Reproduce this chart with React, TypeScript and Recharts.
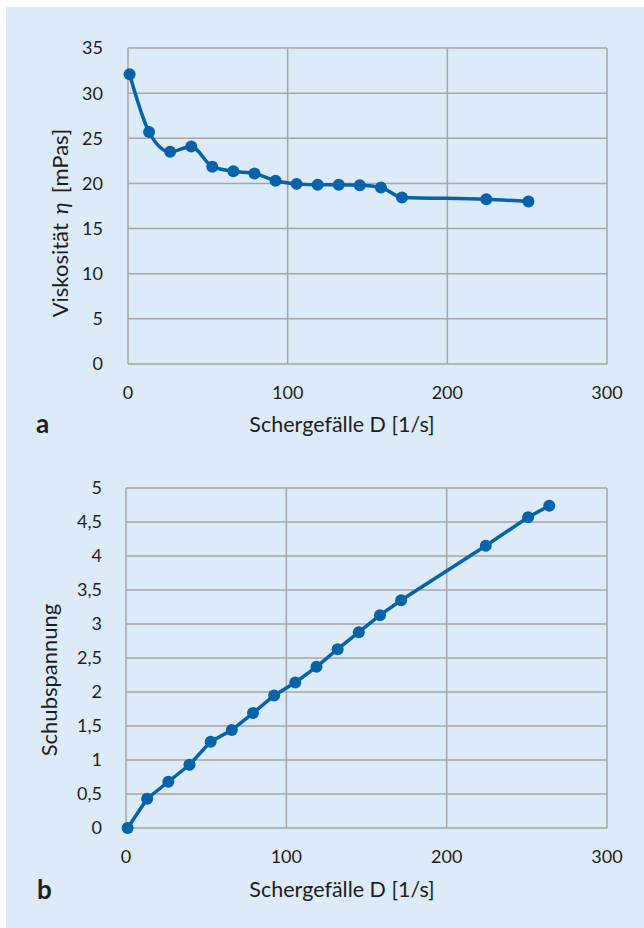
import { LineChart, Line, XAxis, YAxis, CartesianGrid } from 'recharts';

// Schergefälle D [1/s]
const shearRateA = [1, 13.2, 26.4, 39.6, 52.8, 66, 79.2, 92.4, 105.6, 118.8, 132, 145.2, 158.4, 171.6, 224.4, 250.8];
// Viskosität [mPas]
const viscosity = [32.1, 25.7, 23.5, 24.1, 21.85, 21.35, 21.1, 20.3, 19.95, 19.85, 19.85, 19.8, 19.55, 18.45, 18.25, 18.0];

const shearRateB = [1, 13.2, 26.4, 39.6, 52.8, 66, 79.2, 92.4, 105.6, 118.8, 132, 145.2, 158.4, 171.6, 224.4, 250.8, 264];
const shearStress = [0, 0.43, 0.68, 0.93, 1.27, 1.44, 1.69, 1.95, 2.14, 2.37, 2.63, 2.88, 3.13, 3.35, 4.15, 4.57, 4.74];

const xTicks = [0, 100, 200, 300];
const viscosityTicks = [0, 5, 10, 15, 20, 25, 30, 35];
const stressTicks = [0, 0.5, 1, 1.5, 2, 2.5, 3, 3.5, 4, 4.5, 5];

const dataA = shearRateA.map((d, i) => ({ d, v: viscosity[i] }));
const dataB = shearRateB.map((d, i) => ({ d, v: shearStress[i] }));

const FONT = 'Lato, "Open Sans", sans-serif';
const INK = '#1e1e1e';
const BLUE = '#0563a9';
const GRID = '#a6a6a6';
const tickStyle = { fontSize: 18, fill: INK, fontFamily: FONT };
const comma = (v: number) => String(v).replace('.', ',');

const xTitle = (y: number) => () => (
  <text x={342} y={y} textAnchor="middle" fontSize={21.5} fill={INK} fontFamily={FONT}>
    Schergefälle D [1/s]
  </text>
);

export default function App() {
  return (
    <div style={{ position: 'absolute', left: 0, top: 0, width: 644, height: 928, background: '#fff', fontFamily: FONT }}>
      <div style={{ position: 'absolute', left: 6, top: 7, width: 638, height: 921, background: '#ddeaf7' }} />

      {/* a: Viskosität */}
      <div style={{ position: 'absolute', left: 0, top: 0 }}>
        <LineChart width={644} height={440} data={dataA} margin={{ top: 48, right: 37, bottom: 46, left: 68 }}>
          <CartesianGrid stroke={GRID} strokeWidth={1.5} />
          <XAxis
            type="number"
            dataKey="d"
            domain={[0, 300]}
            ticks={xTicks}
            height={30}
            axisLine={false}
            tickLine={false}
            tickSize={0}
            tickMargin={22}
            tick={tickStyle}
            label={{ content: xTitle(432) }}
          />
          <YAxis
            type="number"
            domain={[0, 35]}
            ticks={viscosityTicks}
            width={60}
            axisLine={false}
            tickLine={false}
            tickSize={0}
            tickMargin={25}
            tick={tickStyle}
            label={{
              content: () => (
                <text x={68} y={223} transform="rotate(-90, 68, 223)" textAnchor="middle" fontSize={22} fill={INK} fontFamily={FONT}>
                  Viskosität<tspan dx={9} fontStyle="italic">η</tspan><tspan dx={9}>[mPas]</tspan>
                </text>
              ),
            }}
          />
          <Line type="monotone" dataKey="v" stroke={BLUE} strokeWidth={3.5} dot={{ r: 6, fill: BLUE, stroke: 'none' }} isAnimationActive={false} />
        </LineChart>
      </div>

      {/* b: Schubspannung */}
      <div style={{ position: 'absolute', left: 0, top: 440 }}>
        <LineChart width={644} height={488} data={dataB} margin={{ top: 48, right: 37, bottom: 70, left: 66 }}>
          <CartesianGrid stroke={GRID} strokeWidth={1.5} />
          <XAxis
            type="number"
            dataKey="d"
            domain={[0, 300]}
            ticks={xTicks}
            height={30}
            axisLine={false}
            tickLine={false}
            tickSize={0}
            tickMargin={22}
            tick={tickStyle}
            label={{ content: xTitle(457) }}
          />
          <YAxis
            type="number"
            domain={[0, 5]}
            ticks={stressTicks}
            tickFormatter={comma}
            width={60}
            axisLine={false}
            tickLine={false}
            tickSize={0}
            tickMargin={24}
            tick={tickStyle}
            label={{
              content: () => (
                <text x={57} y={240} transform="rotate(-90, 57, 240)" textAnchor="middle" fontSize={22} fill={INK} fontFamily={FONT}>
                  Schubspannung
                </text>
              ),
            }}
          />
          <Line type="linear" dataKey="v" stroke={BLUE} strokeWidth={3.5} dot={{ r: 6, fill: BLUE, stroke: 'none' }} isAnimationActive={false} />
        </LineChart>
      </div>

      <svg width={644} height={928} style={{ position: 'absolute', left: 0, top: 0, pointerEvents: 'none' }}>
        <text x={36} y={433} fontSize={26} fontWeight={700} fill={INK} fontFamily={FONT}>a</text>
        <text x={37} y={899} fontSize={26} fontWeight={700} fill={INK} fontFamily={FONT}>b</text>
      </svg>
    </div>
  );
}
